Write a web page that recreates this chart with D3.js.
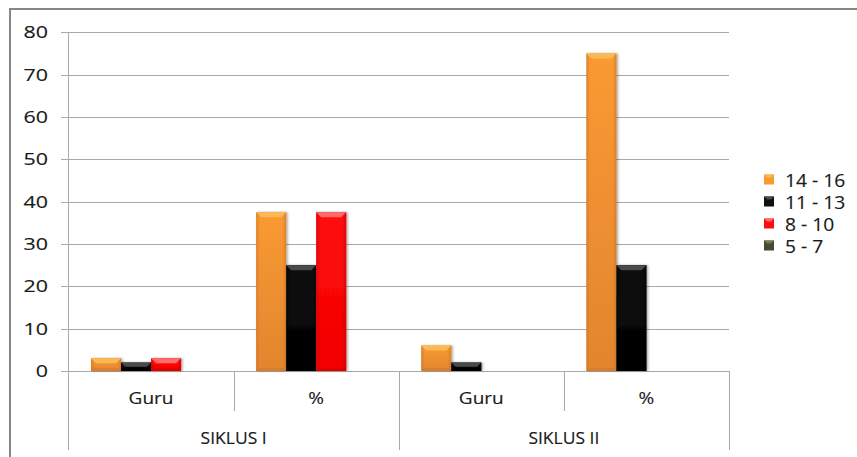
<!DOCTYPE html>
<html>
<head>
<meta charset="utf-8">
<script src="https://cdn.jsdelivr.net/npm/d3@7"></script>
<style>
  html, body { margin: 0; padding: 0; background: #fff; }
  svg { display: block; }
  text { font-family: "Open Sans", "DejaVu Sans", sans-serif; fill: #1a1a1a; stroke: #1a1a1a; stroke-width: 0.15px; }
</style>
</head>
<body>
<svg id="chart" width="857" height="457"></svg>
<script>
// Categories: each cycle (SIKLUS) is split into a teacher count and a percentage
const groups = ["SIKLUS I", "SIKLUS II"];
const subCats = ["Guru", "%"];
// Score ranges (legend order)
const seriesNames = ["14 - 16", "11 - 13", "8 - 10", "5 - 7"];
// Values per leaf category: SIKLUS I Guru, SIKLUS I %, SIKLUS II Guru, SIKLUS II %
const s14to16 = [3, 37.5, 6, 75];
const s11to13 = [2, 25, 2, 25];
const s8to10 = [3, 37.5, 0, 0];
const s5to7 = [0, 0, 0, 0];
const yTicks = [0, 10, 20, 30, 40, 50, 60, 70, 80];

const seriesValues = [s14to16, s11to13, s8to10, s5to7];
const palette = [
  { top: "#fbb955", light: "#f99a33", dark: "#e2852e", edge: "#c96f24" },
  { top: "#4a4a4a", light: "#101010", dark: "#000000", edge: "#000000" },
  { top: "#ff6a6a", light: "#ff0d0d", dark: "#f20000", edge: "#c00000" },
  { top: "#77775a", light: "#4a4a30", dark: "#3a3a24", edge: "#2a2a18" }
];

const leaves = [];
groups.forEach(g => subCats.forEach(s => leaves.push({ group: g, sub: s, key: g + "|" + s })));

const svg = d3.select("#chart");
const defs = svg.append("defs");

// Vertical shading and darker side edges for every series
palette.forEach((c, i) => {
  const gr = defs.append("linearGradient").attr("id", "grad" + i)
    .attr("x1", 0).attr("y1", 0).attr("x2", 0).attr("y2", 1);
  gr.append("stop").attr("offset", "0%").attr("stop-color", c.light);
  gr.append("stop").attr("offset", "100%").attr("stop-color", c.dark);
  const side = defs.append("linearGradient").attr("id", "side" + i)
    .attr("x1", 0).attr("y1", 0).attr("x2", 1).attr("y2", 0);
  side.append("stop").attr("offset", "0%").attr("stop-color", c.edge).attr("stop-opacity", 0.55);
  side.append("stop").attr("offset", "12%").attr("stop-color", c.edge).attr("stop-opacity", 0);
  side.append("stop").attr("offset", "88%").attr("stop-color", c.edge).attr("stop-opacity", 0);
  side.append("stop").attr("offset", "100%").attr("stop-color", c.edge).attr("stop-opacity", 0.6);
});
const shadow = defs.append("filter").attr("id", "shadow")
  .attr("x", "-20%").attr("y", "-20%").attr("width", "150%").attr("height", "140%");
shadow.append("feDropShadow").attr("dx", 1.5).attr("dy", 0).attr("stdDeviation", 1.2)
  .attr("flood-color", "#000").attr("flood-opacity", 0.35);

// Outer frame (left and top edges)
svg.append("path")
  .attr("d", "M10,457 L10,9 L857,9")
  .attr("fill", "none").attr("stroke", "#868686").attr("stroke-width", 2);

const plot = { left: 68.5, right: 729, top: 32.3, bottom: 371 };

const y = d3.scaleLinear().domain([0, 80]).range([plot.bottom, plot.top]);
const x = d3.scaleBand().domain(leaves.map(d => d.key)).range([plot.left, plot.right])
  .paddingInner(0).paddingOuter(0);
const xg = d3.scaleBand().domain(groups).range([plot.left, plot.right]);
// Gap width 150%: four bars share 4/5.5 of each category
const gap = x.bandwidth() * 0.75 / 5.5;
const xs = d3.scaleBand().domain(seriesNames).range([gap, x.bandwidth() - gap])
  .paddingInner(0).paddingOuter(0);

const gridColor = "#a9a9a9";

// Horizontal gridlines with outward tick stubs
svg.append("g").selectAll("line").data(yTicks).join("line")
  .attr("x1", plot.left - 7.5).attr("x2", plot.right)
  .attr("y1", d => Math.round(y(d)) + 0.5).attr("y2", d => Math.round(y(d)) + 0.5)
  .attr("stroke", gridColor).attr("stroke-width", 1);

// Value axis line, extended down through the category label rows
svg.append("line")
  .attr("x1", plot.left).attr("x2", plot.left)
  .attr("y1", plot.top).attr("y2", 450)
  .attr("stroke", gridColor).attr("stroke-width", 1);

// Horizontally stretched label helper
function label(g, txt, px, py, anchor, size, sx) {
  return g.append("text")
    .attr("transform", `translate(${px},${py}) scale(${sx},1)`)
    .attr("text-anchor", anchor)
    .attr("font-size", size)
    .text(txt);
}

// Value axis labels
const yLab = svg.append("g");
yTicks.forEach(t => label(yLab, t, 48, y(t) + 6, "end", 16.5, 1.3));

// Category separators: short ticks between sub-categories, long ones between groups
const sepData = leaves.map((d, i) => ({ x: x(d.key) + x.bandwidth(), long: i % 2 === 1 }));
svg.append("g").selectAll("line").data(sepData).join("line")
  .attr("x1", d => Math.round(d.x) + 0.5).attr("x2", d => Math.round(d.x) + 0.5)
  .attr("y1", plot.bottom).attr("y2", d => d.long ? 450 : 411)
  .attr("stroke", gridColor).attr("stroke-width", 1);

// Bars with bevelled tops
const barLayer = svg.append("g");
seriesNames.forEach((name, si) => {
  leaves.forEach((leaf, li) => {
    const v = seriesValues[si][li];
    if (!v) return;
    const bx = x(leaf.key) + xs(name);
    const bw = xs.bandwidth();
    const by = y(v);
    const bh = y(0) - by;
    const g = barLayer.append("g");
    g.append("rect").attr("x", bx).attr("y", by).attr("width", bw).attr("height", bh)
      .attr("fill", `url(#grad${si})`).attr("filter", "url(#shadow)");
    g.append("rect").attr("x", bx).attr("y", by).attr("width", bw).attr("height", bh)
      .attr("fill", `url(#side${si})`);
    const b = Math.min(5, bh / 2);
    g.append("path")
      .attr("d", `M${bx},${by} L${bx + bw},${by} L${bx + bw - b},${by + b} L${bx + b},${by + b} Z`)
      .attr("fill", palette[si].top);
    g.append("path")
      .attr("d", `M${bx},${by + bh} L${bx + bw},${by + bh} L${bx + bw - 3},${by + bh - Math.min(3, b)} L${bx + 3},${by + bh - Math.min(3, b)} Z`)
      .attr("fill", palette[si].edge).attr("opacity", 0.35);
  });
});

// Sub-category labels
const catLab = svg.append("g");
leaves.forEach(d => label(catLab, d.sub, x(d.key) + x.bandwidth() / 2, 404, "middle", 17, 1.12));
// Group labels
groups.forEach(g => label(catLab, g, xg(g) + xg.bandwidth() / 2, 444, "middle", 16.5, 1.06));

// Legend
const legend = svg.append("g");
seriesNames.forEach((name, i) => {
  const cy = 180 + i * 22;
  const c = palette[i];
  legend.append("rect").attr("x", 764).attr("y", cy - 5.5).attr("width", 10).attr("height", 10)
    .attr("fill", c.light);
  legend.append("path")
    .attr("d", `M764,${cy - 5.5} L774,${cy - 5.5} L771,${cy - 2.5} L767,${cy - 2.5} Z`)
    .attr("fill", c.top);
  label(legend, name, 785, cy + 6.5, "start", 17.5, 1.1);
});
</script>
</body>
</html>
